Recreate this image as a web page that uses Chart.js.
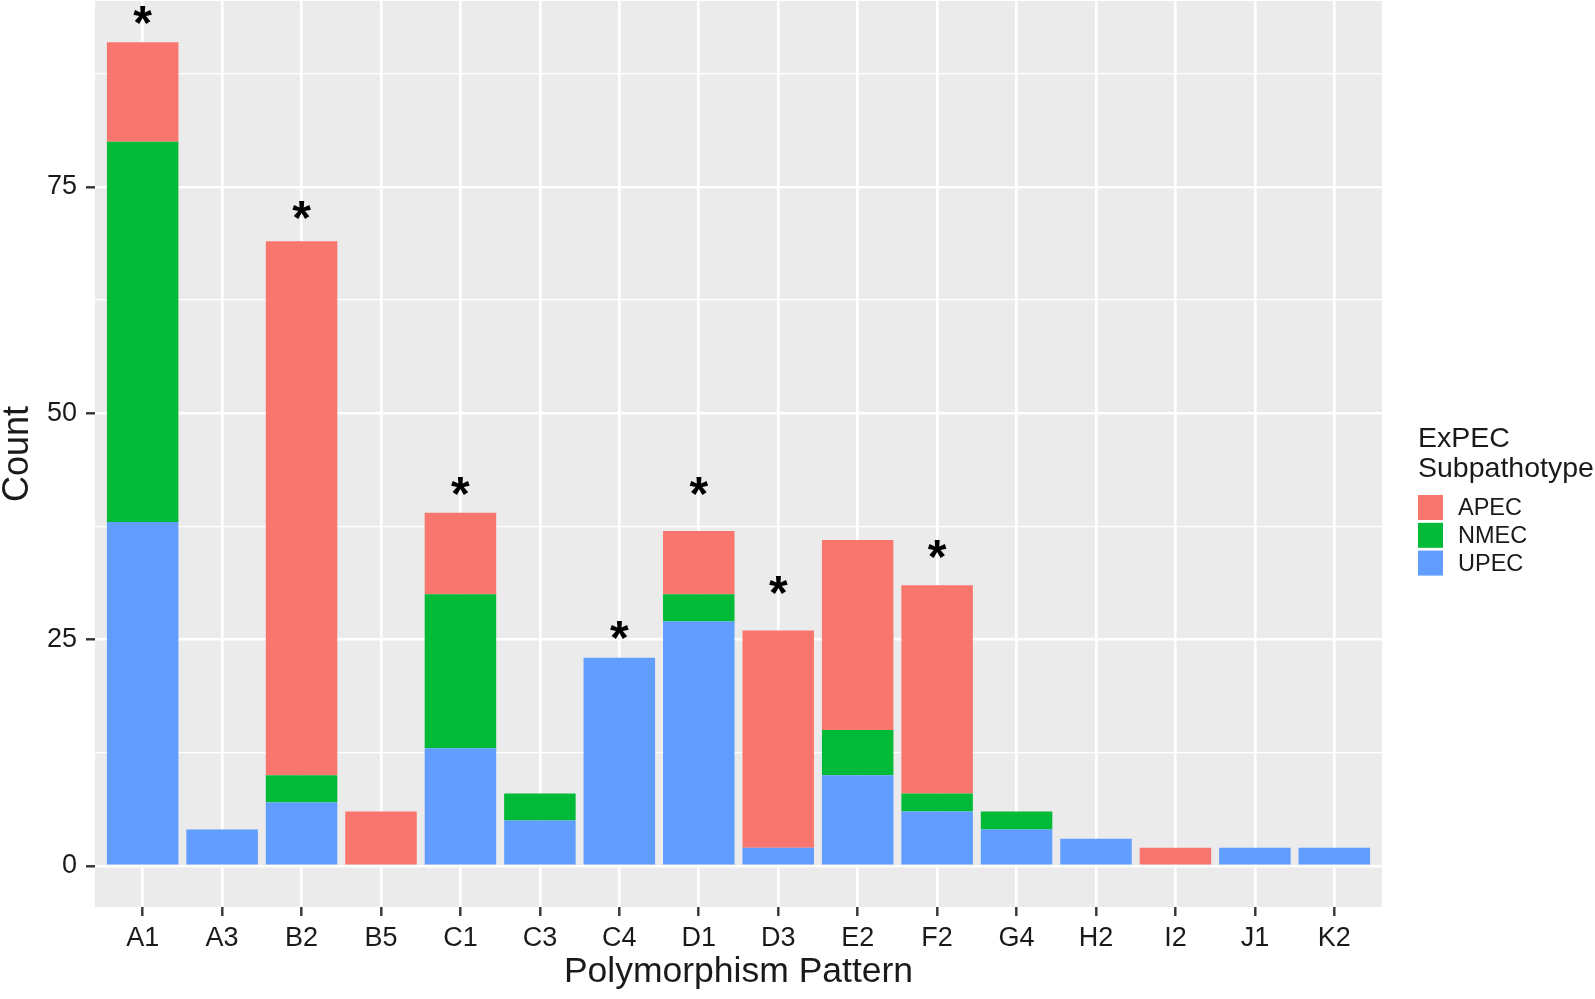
<!DOCTYPE html>
<html>
<head>
<meta charset="utf-8">
<title>Polymorphism Pattern</title>
<script src="https://cdn.jsdelivr.net/npm/chart.js@4.4.1/dist/chart.umd.min.js"></script>
<style>
  html, body { margin: 0; padding: 0; background: #fff; }
  #wrap { width: 1595px; height: 999px; }
</style>
</head>
<body>
<div id="wrap"><canvas id="patternChart" width="1595" height="999"></canvas></div>
<script>
// ===== Data =====
const categories = ['A1', 'A3', 'B2', 'B5', 'C1', 'C3', 'C4', 'D1', 'D3', 'E2', 'F2', 'G4', 'H2', 'I2', 'J1', 'K2'];
const upec = [38, 4, 7, 0, 13, 5, 23, 27, 2, 10, 6, 4, 3, 0, 2, 2];
const nmec = [42, 0, 3, 0, 17, 3, 0, 3, 0, 5, 2, 2, 0, 0, 0, 0];
const apec = [11, 0, 59, 6, 9, 0, 0, 7, 24, 21, 23, 0, 0, 2, 0, 0];
// where the significance asterisks sit (count units), null = none
const starY = [94, null, 72.5, null, 42, null, 26, 42, 31, null, 35, null, null, null, null, null];
const yMajor = [0, 25, 50, 75];
const yMinor = [12.5, 37.5, 62.5, 87.5];

const FONT = '"Liberation Sans", Arial, sans-serif';
const TEXT = '#1a1a1a';

const toPoints = arr => arr.map((v, i) => ({ x: i + 1, y: v }));
const isMajor = c => c.tick && yMajor.includes(c.tick.value);

// ===== Plugins: ggplot panel, asterisks, legend =====
const panelBg = {
  id: 'panelBg',
  beforeDraw(chart) {
    const { ctx, chartArea: a } = chart;
    ctx.save();
    ctx.fillStyle = '#EBEBEB';
    ctx.fillRect(a.left, a.top, a.right - a.left, a.bottom - a.top);
    ctx.restore();
  }
};

const stars = {
  id: 'stars',
  afterDatasetsDraw(chart) {
    const { ctx, scales } = chart;
    ctx.save();
    ctx.fillStyle = '#000';
    ctx.font = 'bold 48px ' + FONT;
    ctx.textAlign = 'center';
    ctx.textBaseline = 'alphabetic';
    const m = ctx.measureText('*');
    const shift = (m.actualBoundingBoxAscent - m.actualBoundingBoxDescent) / 2;
    starY.forEach((v, i) => {
      if (v === null) return;
      const x = scales.x.getPixelForValue(i + 1);
      const y = scales.y.getPixelForValue(v);
      ctx.fillText('*', x, y + shift);
    });
    ctx.restore();
  }
};

const sideLegend = {
  id: 'sideLegend',
  afterDraw(chart) {
    const { ctx } = chart;
    const x = 1418;
    ctx.save();
    ctx.fillStyle = TEXT;
    ctx.font = '28.5px ' + FONT;
    ctx.textAlign = 'left';
    ctx.textBaseline = 'alphabetic';
    ctx.fillText('ExPEC', x, 447);
    ctx.fillText('Subpathotype', x, 477);

    // legend runs top-down in reverse of the stacking order
    const sets = chart.data.datasets.slice().reverse();
    ctx.font = '23.5px ' + FONT;
    ctx.textBaseline = 'middle';
    sets.forEach((ds, i) => {
      const top = 495 + i * 27.8;
      ctx.fillStyle = ds.backgroundColor;
      ctx.fillRect(x, top, 25, 25);
      ctx.fillStyle = TEXT;
      ctx.fillText(ds.label, 1458, top + 13.5);
    });
    ctx.restore();
  }
};

// ===== Chart =====
const ctx = document.getElementById('patternChart').getContext('2d');
new Chart(ctx, {
  type: 'bar',
  data: {
    datasets: [
      { label: 'UPEC', data: toPoints(upec), backgroundColor: '#619CFF' },
      { label: 'NMEC', data: toPoints(nmec), backgroundColor: '#00BA38' },
      { label: 'APEC', data: toPoints(apec), backgroundColor: '#F8766D' }
    ]
  },
  options: {
    responsive: false,
    animation: false,
    layout: { padding: { left: 0, top: 1, right: 213, bottom: 0 } },
    datasets: {
      bar: { categoryPercentage: 0.9, barPercentage: 1, borderWidth: 0 }
    },
    scales: {
      x: {
        type: 'linear',
        stacked: true,
        min: 0.4,
        max: 16.6,
        offset: false,
        border: { display: false },
        grid: {
          offset: false,
          color: '#FFFFFF',
          lineWidth: 2.6,
          tickColor: '#333333',
          tickWidth: 2.4,
          tickLength: 9
        },
        ticks: {
          autoSkip: false,
          maxRotation: 0,
          padding: 6,
          color: TEXT,
          font: { family: FONT, size: 27 },
          callback: v => categories[v - 1] || ''
        },
        afterBuildTicks: s => { s.ticks = categories.map((c, i) => ({ value: i + 1 })); },
        title: {
          display: true,
          text: 'Polymorphism Pattern',
          color: TEXT,
          font: { family: FONT, size: 35.5, lineHeight: 1 },
          padding: { top: 0, bottom: 9 }
        },
        afterFit: s => { s.height = 92; s.paddingLeft = 0; s.paddingRight = 0; }
      },
      y: {
        stacked: true,
        min: -4.55,
        max: 95.55,
        border: { display: false },
        grid: {
          color: '#FFFFFF',
          lineWidth: c => (isMajor(c) ? 2.6 : 1.3),
          tickColor: c => (isMajor(c) ? '#333333' : 'rgba(0,0,0,0)'),
          tickWidth: 2.4,
          tickLength: 9
        },
        ticks: {
          autoSkip: false,
          padding: 9,
          color: TEXT,
          font: { family: FONT, size: 27 },
          callback: v => (yMajor.includes(v) ? String(v) : '')
        },
        afterBuildTicks: s => {
          s.ticks = yMajor.concat(yMinor).sort((a, b) => a - b).map(v => ({ value: v }));
        },
        title: {
          display: true,
          text: 'Count',
          color: TEXT,
          font: { family: FONT, size: 36, lineHeight: 1 },
          padding: { top: 0, bottom: 0 }
        },
        afterFit: s => { s.width = 95; s.paddingTop = 0; s.paddingBottom = 0; }
      }
    },
    plugins: {
      legend: { display: false },
      tooltip: { enabled: false }
    }
  },
  plugins: [panelBg, stars, sideLegend]
});
</script>
</body>
</html>
